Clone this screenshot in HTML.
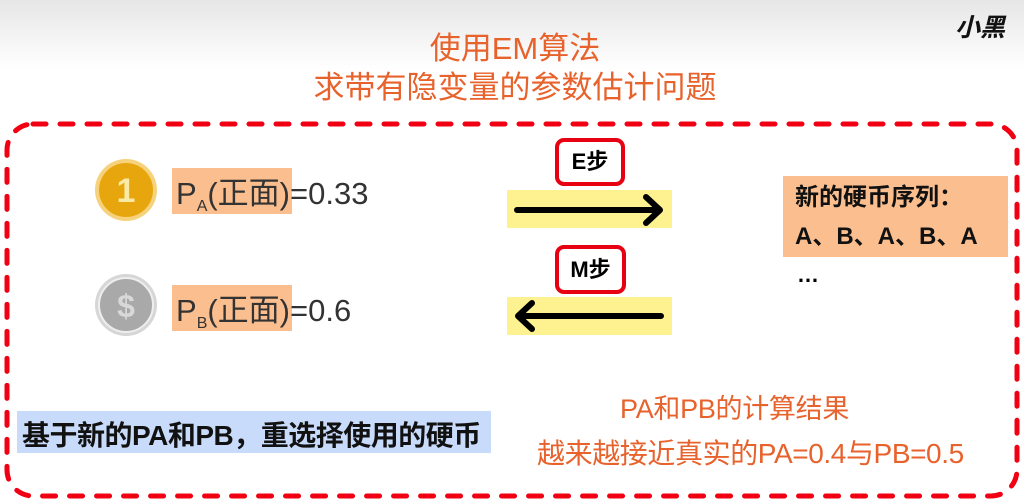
<!DOCTYPE html>
<html><head><meta charset="utf-8"><style>
body{margin:0;width:1024px;height:504px;overflow:hidden;position:relative;font-family:"Liberation Sans","Noto Sans CJK SC",sans-serif;background:linear-gradient(#e6e6e6 0,#fafafa 55px,#fff 70px);}
.a{position:absolute;white-space:nowrap}
.t{color:#e8622c;font-size:31px;left:0;width:1030px;text-align:center}
.lab{background:#fbbf8f;height:46px;width:120px;left:172px}
.pt{font-size:31px;color:#333;left:176px}
.pt sub{font-size:16px}
.stp{border:4px solid #e60012;border-radius:9px;background:#fff;font-weight:bold;font-size:22px;text-align:center;box-sizing:border-box}
.yb{background:#fdf28f;left:507px;width:165px;height:38px}
</style></head><body>
<div class="a t" style="top:23px">使用EM算法</div>
<div class="a t" style="top:62px">求带有隐变量的参数估计问题</div>
<div class="a" style="left:955px;top:8px;font-size:25px;font-weight:bold;font-style:italic;color:#111">小黑</div>
<svg class="a" style="left:0;top:0" width="1024" height="504"><rect x="7" y="124" width="1010" height="372" rx="26" fill="none" stroke="#f00012" stroke-width="5" stroke-dasharray="13 14" stroke-linecap="round"/>
<circle cx="126" cy="190" r="31" fill="#f6d27c"/><circle cx="126" cy="190" r="27" fill="#e8a60e"/><text x="126" y="202" font-size="34" font-weight="bold" fill="#fbe9a6" text-anchor="middle" font-family="Liberation Sans">1</text>
<circle cx="126" cy="305" r="31" fill="#d6d6d6"/><circle cx="126" cy="305" r="27" fill="#a9a9a9" stroke="#eee" stroke-width="2"/><text x="126" y="317" font-size="32" font-weight="bold" fill="#d8d8d8" text-anchor="middle" font-family="Liberation Sans">$</text>
</svg>
<div class="a lab" style="top:168px"></div>
<div class="a lab" style="top:285px"></div>
<div class="a pt" style="top:168px">P<sub>A</sub>(正面)=0.33</div>
<div class="a pt" style="top:285px">P<sub>B</sub>(正面)=0.6</div>
<div class="a yb" style="top:190px"></div>
<div class="a yb" style="top:297px"></div>
<svg class="a" style="left:0;top:0" width="1024" height="504"><g stroke="#000" stroke-width="6" fill="none" stroke-linecap="round" stroke-linejoin="round"><path d="M517 210H660M646 197L660 210L646 223"/><path d="M661 316H518M532 303L518 316L532 329"/></g></svg>
<div class="a stp" style="left:555px;top:138px;width:70px;height:48px;line-height:40px">E步</div>
<div class="a stp" style="left:555px;top:245px;width:71px;height:49px;line-height:41px">M步</div>
<div class="a" style="left:783px;top:176px;width:225px;height:81px;background:#fbbf8f"></div>
<div class="a" style="left:795px;top:178px;font-size:24px;font-weight:bold;line-height:39px;color:#111">新的硬币序列：<br>A、B、A、B、A</div>
<div class="a" style="left:797px;top:262px;font-size:22px;font-weight:bold">…</div>
<div class="a" style="left:17px;top:411px;width:474px;height:42px;background:#c9dbfa"></div>
<div class="a" style="left:22px;top:414px;font-size:28px;font-weight:bold;color:#111;letter-spacing:-0.5px">基于新的PA和PB，重选择使用的硬币</div>
<div class="a" style="left:620px;top:387px;font-size:27px;color:#e8622c;letter-spacing:-0.3px">PA和PB的计算结果</div>
<div class="a" style="left:537px;top:432px;font-size:28px;color:#e8622c;letter-spacing:-0.4px">越来越接近真实的PA=0.4与PB=0.5</div>
</body></html>
